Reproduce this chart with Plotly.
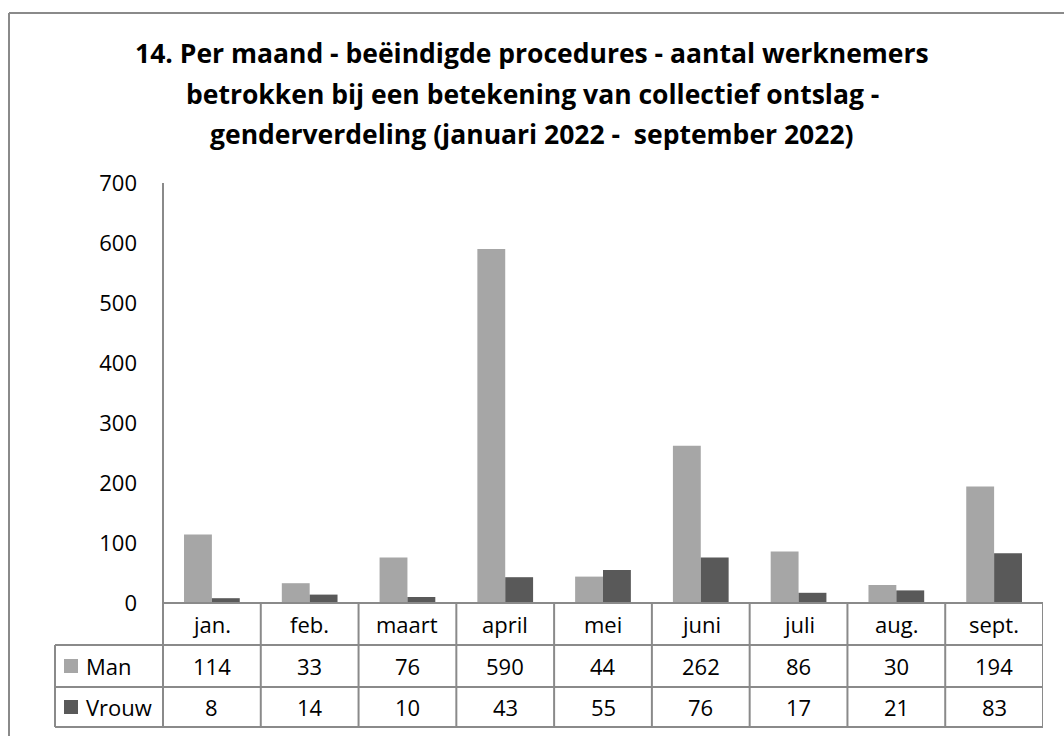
import plotly.graph_objects as go

# data
months = ["jan.", "feb.", "maart", "april", "mei", "juni", "juli", "aug.", "sept."]
man = [114, 33, 76, 590, 44, 262, 86, 30, 194]
vrouw = [8, 14, 10, 43, 55, 76, 17, 21, 83]
series_names = ["Man", "Vrouw"]
y_ticks = [0, 100, 200, 300, 400, 500, 600, 700]

title_lines = [
    "14. Per maand - beëindigde procedures - aantal werknemers",
    "betrokken bij een betekening van collectief ontslag -",
    "genderverdeling (januari 2022 -  september 2022)",
]

W, H = 1064, 736
FONT = "Open Sans"
GRID = "#8a8a8a"
COLORS = ["#a6a6a6", "#595959"]


def px(x):
    return x / W


def py(y):
    return 1 - y / H


# pixel layout of the plot area and the data table below it
x_left, x_right = 163, 1043
y_top, y_zero = 183, 603
row_edges = [603, 645, 687, 727]
label_left = 55

fig = go.Figure()
for name, vals, col in zip(series_names, [man, vrouw], COLORS):
    fig.add_trace(go.Bar(x=list(range(len(months))), y=vals, name=name, marker_color=col,
                         marker_line_width=0))

shapes = []
# outer chart border (top and left only visible)
shapes.append(dict(type="line", xref="paper", yref="paper", x0=px(9), x1=1.0, y0=py(13), y1=py(13),
                   line=dict(color=GRID, width=2)))
shapes.append(dict(type="line", xref="paper", yref="paper", x0=px(9), x1=px(9), y0=py(13), y1=0,
                   line=dict(color=GRID, width=2)))

# table horizontal lines
shapes.append(dict(type="line", xref="paper", yref="paper", x0=px(x_left), x1=px(x_right),
                   y0=py(row_edges[0]), y1=py(row_edges[0]), line=dict(color=GRID, width=2)))
for ry in row_edges[1:]:
    shapes.append(dict(type="line", xref="paper", yref="paper", x0=px(label_left), x1=px(x_right),
                       y0=py(ry), y1=py(ry), line=dict(color=GRID, width=2)))
# table vertical lines
shapes.append(dict(type="line", xref="paper", yref="paper", x0=px(label_left), x1=px(label_left),
                   y0=py(row_edges[1]), y1=py(row_edges[3]), line=dict(color=GRID, width=2)))
shapes.append(dict(type="line", xref="paper", yref="paper", x0=px(x_left), x1=px(x_left),
                   y0=py(y_top), y1=py(row_edges[3]), line=dict(color=GRID, width=2)))
for i in range(len(months)):
    shapes.append(dict(type="line", xref="x", yref="paper", x0=i + 0.5, x1=i + 0.5,
                       y0=py(row_edges[0]), y1=py(row_edges[3]), line=dict(color=GRID, width=2)))

# legend keys
for k, col in enumerate(COLORS):
    cy = (row_edges[k + 1] + row_edges[k + 2]) / 2
    shapes.append(dict(type="rect", xref="paper", yref="paper", x0=px(64), x1=px(78),
                       y0=py(cy + 7), y1=py(cy - 7), fillcolor=col, line_width=0))

annotations = []
title_y = [53, 94, 134]
for line, ty in zip(title_lines, title_y):
    annotations.append(dict(text=line, xref="paper", yref="paper", x=px(532), y=py(ty),
                            xanchor="center", yanchor="middle", showarrow=False,
                            font=dict(family=FONT, size=26.5, color="#000000", weight="bold")))

hdr_y = (row_edges[0] + row_edges[1]) / 2
for i, m in enumerate(months):
    annotations.append(dict(text=m, xref="x", yref="paper", x=i, y=py(hdr_y), showarrow=False,
                            xanchor="center", yanchor="middle", font=dict(family=FONT, size=22, color="#000")))
for k, (name, vals) in enumerate(zip(series_names, [man, vrouw])):
    cy = (row_edges[k + 1] + row_edges[k + 2]) / 2
    annotations.append(dict(text=name, xref="paper", yref="paper", x=px(84), y=py(cy), showarrow=False,
                            xanchor="left", yanchor="middle", font=dict(family=FONT, size=22, color="#000")))
    for i, v in enumerate(vals):
        annotations.append(dict(text=str(v), xref="x", yref="paper", x=i, y=py(cy), showarrow=False,
                                xanchor="center", yanchor="middle", font=dict(family=FONT, size=22, color="#000")))

fig.update_layout(
    width=W, height=H,
    margin=dict(l=0, r=0, t=0, b=0, autoexpand=False),
    paper_bgcolor="white", plot_bgcolor="white",
    showlegend=False,
    barmode="group", bargap=0.43, bargroupgap=0,
    shapes=shapes, annotations=annotations,
    font=dict(family=FONT, size=22, color="#000"),
)
fig.update_xaxes(domain=[px(x_left), px(x_right)], range=[-0.5, len(months) - 0.5],
                 showticklabels=False, showgrid=False, zeroline=False, showline=False,
                 automargin=False)
fig.update_yaxes(domain=[py(y_zero), py(y_top)], range=[0, 700], tickvals=y_ticks,
                 showgrid=False, zeroline=False, showline=False, ticks="", automargin=False,
                 ticklabelstandoff=25, tickfont=dict(family=FONT, size=22, color="#000"))

fig.write_html("out.html", config={"displayModeBar": False},
               post_script="document.body.style.margin='0';document.body.style.overflow='hidden';")
